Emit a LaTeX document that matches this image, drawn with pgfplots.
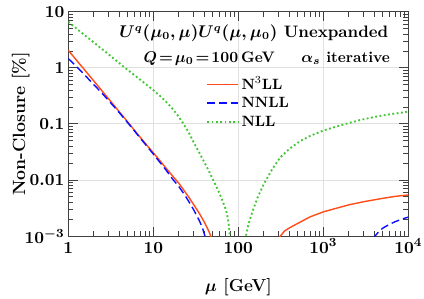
\documentclass[border=0pt]{standalone}
\usepackage{pgfplots}
\pgfplotsset{compat=1.18}
\definecolor{cred}{rgb}{1,0.3,0.1}
\definecolor{cblue}{rgb}{0.05,0.05,1}
\definecolor{cgreen}{rgb}{0.25,0.78,0.2}
\begin{document}
\begin{tikzpicture}
\begin{axis}[
  scale only axis,
  width=219.3pt, height=144.7pt,
  xmode=log, ymode=log,
  xmin=1, xmax=10000, ymin=0.001, ymax=10,
  xtick={1,10,100,1000,10000},
  xticklabels={$1$,$10$,$100$,$10^3$,$10^4$},
  minor xtick={2,3,4,5,6,7,8,9,20,30,40,50,60,70,80,90,200,300,400,500,600,700,800,900,2000,3000,4000,5000,6000,7000,8000,9000},
  ytick={0.001,0.01,0.1,1,10},
  yticklabels={$10^{-3}$,$0.01$,$0.1$,$1$,$10$},
  minor ytick={0.002,0.003,0.004,0.005,0.006,0.007,0.008,0.009,0.02,0.03,0.04,0.05,0.06,0.07,0.08,0.09,0.2,0.3,0.4,0.5,0.6,0.7,0.8,0.9,2,3,4,5,6,7,8,9},
  grid=major,
  major grid style={black!12, line width=0.5pt},
  axis line style={black!75, line width=0.5pt},
  tick style={black!75, line width=0.5pt},
  major tick length=6pt, minor tick length=3.2pt,
  tick align=inside,
  xticklabel style={font=\fontsize{11}{13}\selectfont\boldmath, text height=9pt, yshift=1.5pt},
  yticklabel style={font=\fontsize{11}{13}\selectfont\boldmath, xshift=1pt},
  xlabel={$\mu$ [GeV]},
  ylabel={Non-Closure [\%]},
  xlabel style={font=\fontsize{11.2}{13}\selectfont\bfseries\boldmath, at={(rel axis cs:0.5,0)}, anchor=base, yshift=-35.8pt},
  ylabel style={font=\fontsize{11.4}{13}\selectfont\bfseries\boldmath, at={(rel axis cs:-0.1272,0.5)}, anchor=base},
  legend style={at={(rel axis cs:0.405,0.715)}, anchor=north west, draw=none, fill=none,
    font=\fontsize{9.6}{11}\selectfont\bfseries, row sep=1pt, inner sep=0pt,
    nodes={inner sep=1.5pt, text height=7pt, text depth=1pt}},
  legend cell align=left,
  legend image code/.code={\draw[#1] (0pt,0pt) -- (20pt,0pt);},
]
\addplot[cred, line width=0.9pt] coordinates {
(1,2.05) (1.25,1.36) (1.5,0.98) (2,0.58) (2.5,0.386) (3,0.276) (4,0.163) (5,0.108) (6,0.077) (7,0.058) (8,0.0455) (10,0.0305) (12,0.0220) (14,0.0165) (17,0.0116) (20,0.0087) (22.5,0.0068) (26,0.0050) (30,0.0036) (35,0.0025) (40,0.00175) (45,0.00122) (48,0.00095) (50,0.00075) (53,0.0005)
};
\addlegendentry{N$^3$LL}
\addplot[cblue, line width=0.9pt, dash pattern=on 5.2pt off 2.6pt] coordinates {
(1,1.46) (1.25,1.05) (1.5,0.79) (2,0.50) (2.5,0.35) (3,0.258) (4,0.157) (5,0.105) (6,0.075) (7,0.056) (8,0.0438) (10,0.0290) (12,0.0205) (14,0.0153) (17.2,0.0100) (20,0.0076) (22.5,0.0059) (26,0.0042) (30,0.0029) (35,0.00185) (38,0.00138) (40.5,0.0010) (43,0.0007)
};
\addlegendentry{NNLL}
\addplot[cgreen, line width=1.2pt, dash pattern=on 1.2pt off 1.6pt] coordinates {
(1,6.6) (1.5,3.99) (2,2.82) (3,1.72) (4.65,1.0) (7,0.615) (10,0.40) (12,0.315) (14,0.252) (16,0.203) (19,0.148) (22,0.107) (26,0.071) (30,0.046) (35,0.030) (40,0.0205) (45,0.0145) (50,0.0104) (55.7,0.0074) (60,0.0058) (65,0.0043) (70,0.0032) (73,0.0026) (76,0.0019) (78,0.0014) (80,0.0009) (82,0.0005)
};
\addlegendentry{NLL}
\addplot[cred, line width=0.9pt, forget plot] coordinates {
(290,0.0008) (313,0.001) (350,0.00123) (400,0.0014) (500,0.00168) (700,0.0022) (1000,0.0027) (1500,0.0032) (2000,0.0036) (3000,0.0041) (5000,0.0047) (7000,0.0051) (10000,0.0054)
};
\addplot[cblue, line width=0.9pt, dash pattern=on 5.2pt off 2.6pt, forget plot] coordinates {
(3900,0.0009) (4100,0.00102) (4500,0.0012) (5000,0.00138) (6000,0.00162) (7000,0.0018) (8000,0.00195) (10000,0.00218)
};
\addplot[cgreen, line width=1.2pt, dash pattern=on 1.2pt off 1.6pt, forget plot] coordinates {
(117,0.0006) (122,0.00095) (130,0.0015) (140,0.0022) (150,0.0030) (170,0.0050) (200,0.0085) (250,0.0155) (310,0.025) (400,0.036) (530,0.049) (700,0.061) (1000,0.076) (1400,0.089) (1800,0.099) (2700,0.117) (4000,0.133) (6000,0.148) (10000,0.165)
};
\node[anchor=base east, font=\fontsize{10.7}{13}\selectfont\bfseries\boldmath, inner sep=0pt] at (rel axis cs:0.942,0.886) {$U^q(\mu_0,\mu)U^q(\mu,\mu_0)$ Unexpanded};
\node[anchor=base west, font=\fontsize{9.8}{12}\selectfont\bfseries\boldmath, inner sep=0pt] at (rel axis cs:0.2206,0.773) {$Q\!=\!\mu_0\!=\!100\,$GeV};
\node[anchor=base east, font=\fontsize{9.8}{12}\selectfont\bfseries\boldmath, inner sep=0pt] at (rel axis cs:0.947,0.773) {$\alpha_s$ iterative};
\coordinate (bbsw) at (rel axis cs:-0.2009,-0.2764);
\coordinate (bbne) at (rel axis cs:1.0462,1.0522);
\end{axis}
\pgfresetboundingbox
\useasboundingbox (bbsw) rectangle (bbne);
\end{tikzpicture}
\end{document}
